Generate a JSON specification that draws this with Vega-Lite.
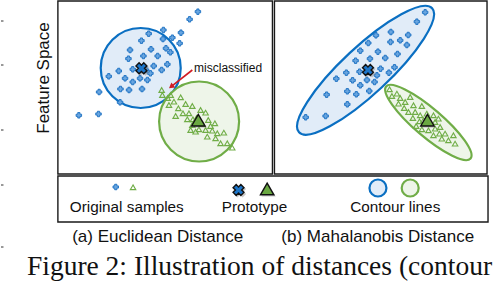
{
  "$schema": "https://vega.github.io/schema/vega-lite/v6.json",
  "width": 500,
  "height": 282,
  "autosize": {"type": "fit", "contains": "padding"},
  "padding": 0,
  "background": "white",
  "config": {"view": {"stroke": null}},
  "datasets": {
    "boxes": [
      {"x": 57, "x2": 272, "y": 1, "y2": 174},
      {"x": 274, "x2": 487, "y": 1, "y2": 174},
      {"x": 57, "x2": 488, "y": 176, "y2": 222}
    ],
    "edgeTicks": [
      {"x": 0, "x2": 2.5, "y": 21},
      {"x": 0, "x2": 2.5, "y": 65},
      {"x": 0, "x2": 2.5, "y": 130},
      {"x": 0, "x2": 2.5, "y": 185},
      {"x": 0, "x2": 2.5, "y": 247}
    ],
    "circleBlue": [{"x": 140, "y": 68}],
    "circleGreen": [{"x": 198.5, "y": 121.5}],
    "ellBlue": [{"x": 365.3, "y": 70.3}],
    "ellGreen": [{"x": 428.2, "y": 122.5}],
    "legCircleBlue": [{"x": 377.7, "y": 188}],
    "legCircleGreen": [{"x": 410, "y": 188}],
    "blueSamples": [
      {"x": 197.3, "y": 11.7}, {"x": 189, "y": 19.3}, {"x": 162.7, "y": 30}, {"x": 148, "y": 33.7},
      {"x": 180.3, "y": 32.7}, {"x": 171.7, "y": 37.7}, {"x": 162.3, "y": 39}, {"x": 140.7, "y": 40.7},
      {"x": 179, "y": 43.3}, {"x": 150.3, "y": 49.3}, {"x": 165.3, "y": 48.3}, {"x": 169.7, "y": 52.3},
      {"x": 129.3, "y": 50}, {"x": 142.7, "y": 56}, {"x": 157, "y": 56}, {"x": 127.7, "y": 58.7},
      {"x": 166.7, "y": 64.3}, {"x": 153, "y": 66}, {"x": 132, "y": 69.3}, {"x": 145.3, "y": 70},
      {"x": 161, "y": 70}, {"x": 118, "y": 71}, {"x": 149.7, "y": 73.3}, {"x": 108, "y": 76.3},
      {"x": 124.3, "y": 78.3}, {"x": 139.3, "y": 78.3}, {"x": 146.7, "y": 80}, {"x": 132, "y": 82},
      {"x": 119.7, "y": 89}, {"x": 128.3, "y": 90}, {"x": 141.3, "y": 89}, {"x": 98.3, "y": 92},
      {"x": 119.3, "y": 102.3}, {"x": 78, "y": 115.3}, {"x": 97.7, "y": 114},
      {"x": 425, "y": 12.3}, {"x": 416.7, "y": 21.7}, {"x": 390.7, "y": 32}, {"x": 375.7, "y": 35.3},
      {"x": 408, "y": 35}, {"x": 390.3, "y": 42}, {"x": 400, "y": 40.3}, {"x": 406.7, "y": 45},
      {"x": 368, "y": 43}, {"x": 360, "y": 50.7}, {"x": 377.7, "y": 51.7}, {"x": 397.3, "y": 54},
      {"x": 369.7, "y": 58.7}, {"x": 385, "y": 58}, {"x": 355.3, "y": 60.7}, {"x": 394.3, "y": 67.3},
      {"x": 380.3, "y": 68.7}, {"x": 388.7, "y": 72.7}, {"x": 346, "y": 72.7}, {"x": 359.3, "y": 71.7},
      {"x": 376.7, "y": 75.3}, {"x": 336, "y": 78.7}, {"x": 352.3, "y": 80.3}, {"x": 366.7, "y": 80},
      {"x": 374.3, "y": 82}, {"x": 360, "y": 85.3}, {"x": 347, "y": 91.3}, {"x": 369, "y": 91},
      {"x": 356, "y": 94.3}, {"x": 326.3, "y": 94.7}, {"x": 347, "y": 104.3}, {"x": 305.3, "y": 117.3},
      {"x": 325.3, "y": 116},
      {"x": 115, "y": 187}
    ],
    "greenSamples": [
      {"x": 161, "y": 90}, {"x": 161.7, "y": 95}, {"x": 170, "y": 95}, {"x": 168.3, "y": 105},
      {"x": 173.3, "y": 101.7}, {"x": 180, "y": 97.3}, {"x": 177.7, "y": 108.3}, {"x": 185, "y": 104},
      {"x": 191.7, "y": 106}, {"x": 182.3, "y": 113.3}, {"x": 188.3, "y": 113.3}, {"x": 186.7, "y": 119.3},
      {"x": 192.3, "y": 119.3}, {"x": 200, "y": 110}, {"x": 205, "y": 112.7}, {"x": 207.7, "y": 120},
      {"x": 191.7, "y": 125}, {"x": 198.3, "y": 129.3}, {"x": 190, "y": 130}, {"x": 195, "y": 131.7},
      {"x": 205, "y": 130}, {"x": 210, "y": 126}, {"x": 214.3, "y": 123.3}, {"x": 211.7, "y": 130.7},
      {"x": 216.7, "y": 133.3}, {"x": 206.7, "y": 136.7}, {"x": 215, "y": 138.3}, {"x": 223.3, "y": 132.7},
      {"x": 220, "y": 143.3}, {"x": 226.7, "y": 143.3}, {"x": 231.7, "y": 147.7}, {"x": 175, "y": 116},
      {"x": 167, "y": 98}, {"x": 202, "y": 124}, {"x": 196, "y": 118},
      {"x": 389.3, "y": 89.3}, {"x": 391.7, "y": 96}, {"x": 396.7, "y": 93.7}, {"x": 398.3, "y": 103.7},
      {"x": 405, "y": 102}, {"x": 410, "y": 97}, {"x": 404, "y": 108}, {"x": 413.3, "y": 105.3},
      {"x": 421.7, "y": 106}, {"x": 408.3, "y": 112}, {"x": 415, "y": 112}, {"x": 420, "y": 115.3},
      {"x": 426.7, "y": 113.7}, {"x": 433.3, "y": 115.3}, {"x": 412.7, "y": 118}, {"x": 419.3, "y": 121.3},
      {"x": 435, "y": 122}, {"x": 416, "y": 126}, {"x": 421.7, "y": 129.3}, {"x": 428.3, "y": 130.3},
      {"x": 435, "y": 128.7}, {"x": 440, "y": 127}, {"x": 439.3, "y": 133.7}, {"x": 433.3, "y": 135.3},
      {"x": 445, "y": 133.7}, {"x": 441.7, "y": 138.7}, {"x": 448.3, "y": 140.3}, {"x": 453.3, "y": 135.3},
      {"x": 455, "y": 143.7}, {"x": 423.3, "y": 120.3}, {"x": 438.3, "y": 118.7}, {"x": 400, "y": 98},
      {"x": 132.3, "y": 187.3}
    ],
    "protoX": [{"x": 140.7, "y": 68.3}, {"x": 367.7, "y": 70}, {"x": 238, "y": 190}],
    "protoT": [{"x": 197.7, "y": 120.2}, {"x": 427.3, "y": 120.2}, {"x": 266.7, "y": 189}],
    "arrow": [{"x": 191.7, "y": 70, "x2": 170.8, "y2": 86.4}],
    "arrowHead": [{"x": 170.5, "y": 86.6}],
    "misc": [{"x": 193.5, "y": 71.5, "t": "misclassified"}],
    "legendText": [
      {"x": 126, "y": 211.5, "t": "Original samples"},
      {"x": 254, "y": 211.5, "t": "Prototype"},
      {"x": 395, "y": 211.5, "t": "Contour lines"}
    ],
    "captions": [
      {"x": 157, "y": 241.5, "t": "(a) Euclidean Distance"},
      {"x": 377.5, "y": 241.5, "t": "(b) Mahalanobis Distance"}
    ],
    "yTitle": [{"x": 43, "y": 78, "t": "Feature Space"}],
    "figure": [{"x": 26, "y": 274.5, "t": "Figure 2: Illustration of distances (contour lines) in"}]
  },
  "encoding": {
    "x": {"field": "x", "type": "quantitative", "scale": {"domain": [0, 500], "nice": false, "zero": false}, "axis": null},
    "y": {"field": "y", "type": "quantitative", "scale": {"domain": [0, 282], "nice": false, "zero": false, "reverse": true}, "axis": null}
  },
  "layer": [
    {
      "data": {"name": "edgeTicks"},
      "mark": {"type": "rule", "stroke": "#333", "strokeWidth": 1},
      "encoding": {"x2": {"field": "x2"}}
    },
    {
      "data": {"name": "circleBlue"},
      "mark": {"type": "point", "shape": "circle", "size": 6400, "filled": true, "fill": "#e1ecf8", "stroke": "#0a6fc2", "strokeWidth": 2.2, "opacity": 1}
    },
    {
      "data": {"name": "circleGreen"},
      "mark": {"type": "point", "shape": "circle", "size": 6400, "filled": true, "fill": "#eef5e9", "stroke": "#70ad47", "strokeWidth": 2.2, "opacity": 1}
    },
    {
      "data": {"name": "ellBlue"},
      "mark": {"type": "point", "shape": "M -1 0 C -1 -0.1425 -0.5523 -0.258 0 -0.258 C 0.5523 -0.258 1 -0.1425 1 0 C 1 0.1425 0.5523 0.258 0 0.258 C -0.5523 0.258 -1 0.1425 -1 0 Z", "size": 33124, "angle": 317, "filled": true, "fill": "#e1ecf8", "stroke": "#0a6fc2", "strokeWidth": 2.2, "opacity": 1}
    },
    {
      "data": {"name": "ellGreen"},
      "mark": {"type": "point", "shape": "M -1 0 C -1 -0.139 -0.5523 -0.252 0 -0.252 C 0.5523 -0.252 1 -0.139 1 0 C 1 0.139 0.5523 0.252 0 0.252 C -0.5523 0.252 -1 0.139 -1 0 Z", "size": 12321, "angle": 40.5, "filled": true, "fill": "#eef5e9", "stroke": "#70ad47", "strokeWidth": 2.2, "opacity": 1}
    },
    {
      "data": {"name": "legCircleBlue"},
      "mark": {"type": "point", "shape": "circle", "size": 289, "filled": true, "fill": "#e1ecf8", "stroke": "#0a6fc2", "strokeWidth": 2.2, "opacity": 1}
    },
    {
      "data": {"name": "legCircleGreen"},
      "mark": {"type": "point", "shape": "circle", "size": 289, "filled": true, "fill": "#eef5e9", "stroke": "#70ad47", "strokeWidth": 2.2, "opacity": 1}
    },
    {
      "data": {"name": "boxes"},
      "mark": {"type": "rect", "fill": null, "fillOpacity": 0, "stroke": "#1a1a1a", "strokeWidth": 1.4},
      "encoding": {"x2": {"field": "x2"}, "y2": {"field": "y2"}}
    },
    {
      "data": {"name": "blueSamples"},
      "mark": {"type": "point", "shape": "M -0.4 -1 L 0.4 -1 L 0.4 -0.4 L 1 -0.4 L 1 0.4 L 0.4 0.4 L 0.4 1 L -0.4 1 L -0.4 0.4 L -1 0.4 L -1 -0.4 L -0.4 -0.4 Z", "size": 30, "filled": true, "fill": "#6aa6e0", "stroke": "#1a6fc2", "strokeWidth": 0.9, "opacity": 1}
    },
    {
      "data": {"name": "greenSamples"},
      "mark": {"type": "point", "shape": "triangle-up", "size": 30, "filled": false, "stroke": "#70ad47", "strokeWidth": 1.1, "opacity": 1}
    },
    {
      "data": {"name": "protoX"},
      "mark": {"type": "point", "shape": "cross", "angle": 45, "size": 150, "filled": true, "fill": "#888888", "opacity": 0.45, "strokeWidth": 0, "xOffset": 1.5, "yOffset": 1.5}
    },
    {
      "data": {"name": "protoX"},
      "mark": {"type": "point", "shape": "cross", "angle": 45, "size": 121, "filled": true, "fill": "#1c75c9", "stroke": "#111111", "strokeWidth": 1.4, "opacity": 1}
    },
    {
      "data": {"name": "protoT"},
      "mark": {"type": "point", "shape": "triangle-up", "size": 210, "filled": true, "fill": "#999999", "opacity": 0.35, "strokeWidth": 0, "xOffset": 1.5, "yOffset": 1.5}
    },
    {
      "data": {"name": "protoT"},
      "mark": {"type": "point", "shape": "triangle-up", "size": 180, "filled": true, "fill": "#6aa842", "stroke": "#111111", "strokeWidth": 1.4, "opacity": 1}
    },
    {
      "data": {"name": "arrow"},
      "mark": {"type": "rule", "stroke": "#d01c24", "strokeWidth": 1.6},
      "encoding": {"x2": {"field": "x2"}, "y2": {"field": "y2"}}
    },
    {
      "data": {"name": "arrowHead"},
      "mark": {"type": "point", "shape": "triangle-up", "size": 40, "angle": 232, "filled": true, "fill": "#d01c24", "strokeWidth": 0, "opacity": 1}
    },
    {
      "data": {"name": "misc"},
      "mark": {"type": "text", "align": "left", "baseline": "alphabetic", "font": "Liberation Sans", "fontSize": 12, "color": "#111"},
      "encoding": {"text": {"field": "t"}}
    },
    {
      "data": {"name": "legendText"},
      "mark": {"type": "text", "align": "center", "baseline": "alphabetic", "font": "Liberation Sans", "fontSize": 15.3, "color": "#111"},
      "encoding": {"text": {"field": "t"}}
    },
    {
      "data": {"name": "captions"},
      "mark": {"type": "text", "align": "center", "baseline": "alphabetic", "font": "Liberation Sans", "fontSize": 17, "color": "#111"},
      "encoding": {"text": {"field": "t"}}
    },
    {
      "data": {"name": "yTitle"},
      "mark": {"type": "text", "align": "center", "baseline": "middle", "angle": 270, "font": "Liberation Sans", "fontSize": 17, "color": "#111"},
      "encoding": {"text": {"field": "t"}}
    },
    {
      "data": {"name": "figure"},
      "mark": {"type": "text", "align": "left", "baseline": "alphabetic", "font": "Liberation Serif", "fontSize": 27.5, "color": "#111", "limit": 473, "ellipsis": "\u200b"},
      "encoding": {"text": {"field": "t"}}
    }
  ]
}
